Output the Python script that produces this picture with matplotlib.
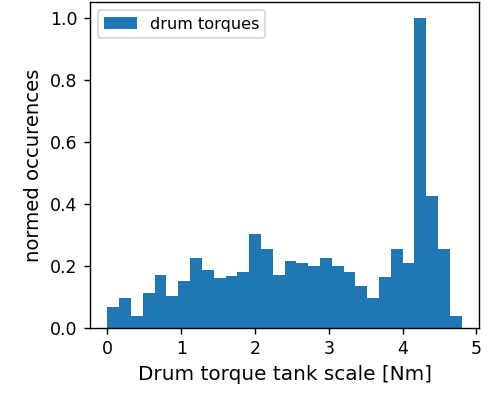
import numpy as np
import matplotlib
matplotlib.use('Agg')
import matplotlib.pyplot as plt

# Histogram of drum torques, normalized to the highest bin
bin_start = 0.0
bin_width = 0.16
normed_counts = [0.066, 0.095, 0.038, 0.113, 0.170, 0.104, 0.152, 0.227, 0.188, 0.160,
                 0.169, 0.179, 0.302, 0.255, 0.170, 0.216, 0.208, 0.199, 0.227, 0.199,
                 0.181, 0.135, 0.096, 0.163, 0.256, 0.208, 1.000, 0.424, 0.256, 0.039]

edges = bin_start + bin_width * np.arange(len(normed_counts) + 1)
centers = (edges[:-1] + edges[1:]) / 2

fig = plt.figure(figsize=(3.904, 3.192), dpi=125)
ax = fig.add_axes([0.184, 0.178, 0.798, 0.817])
ax.hist(centers, bins=edges, weights=normed_counts, label='drum torques')
ax.set_xlabel('Drum torque tank scale [Nm]', fontsize=11.5)
ax.set_ylabel('normed occurences', fontsize=11.3)
ax.tick_params(labelsize=10)
ax.legend(loc='upper left', fontsize=9.3)

fig.savefig('out.png', dpi=125)
